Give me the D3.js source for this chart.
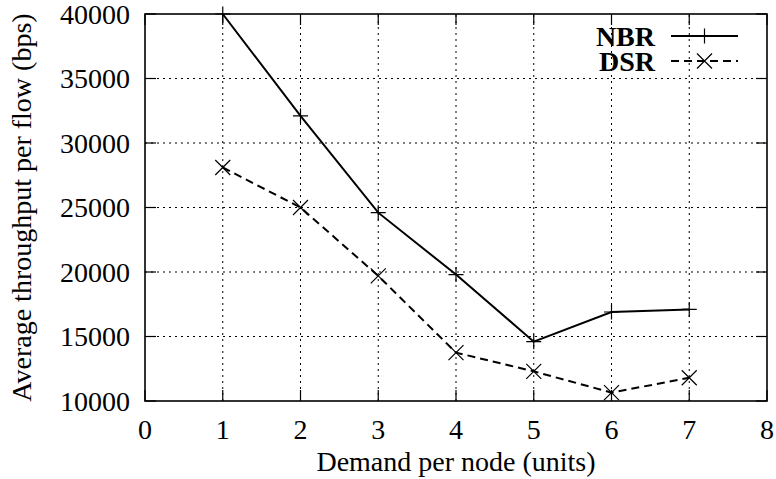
<!DOCTYPE html>
<html>
<head>
<meta charset="utf-8">
<script src="https://cdn.jsdelivr.net/npm/d3@7"></script>
<style>
  body { margin: 0; background: #fff; }
  svg { display: block; }
  svg text { font-family: "Liberation Serif", "Times New Roman", Times, "DejaVu Serif", serif; }
</style>
</head>
<body>
<div id="chart"></div>
<script>
// datos
const demand = [1, 2, 3, 4, 5, 6, 7];
const nbrValues = [40000, 32100, 24600, 19800, 14600, 16900, 17100];
const dsrValues = [28100, 25000, 19700, 13750, 12300, 10650, 11800];
const xTicks = [0, 1, 2, 3, 4, 5, 6, 7, 8];
const yTicks = [10000, 15000, 20000, 25000, 30000, 35000, 40000];
const seriesNames = ["NBR", "DSR"];

const width = 776, height = 479;
const margin = { top: 14, right: 9, bottom: 78, left: 145 };
const fontSize = 28;
const fontFamily = "'Liberation Serif', 'Times New Roman', Times, 'DejaVu Serif', serif";

const svg = d3.select("#chart").append("svg")
    .attr("width", width)
    .attr("height", height);

const x = d3.scaleLinear().domain([0, 8]).range([margin.left, width - margin.right]);
const y = d3.scaleLinear().domain([10000, 40000]).range([height - margin.bottom, margin.top]);

const x0 = x.range()[0], x1 = x.range()[1];
const y0 = y.range()[0], y1 = y.range()[1];

// rejilla punteada
const grid = svg.append("g").attr("stroke", "#000").attr("stroke-width", 1)
    .attr("stroke-dasharray", "2,4");
grid.selectAll(".gx").data(xTicks.slice(1, -1)).enter().append("line")
    .attr("x1", d => x(d)).attr("x2", d => x(d))
    .attr("y1", y0).attr("y2", y1);
grid.selectAll(".gy").data(yTicks.slice(1, -1)).enter().append("line")
    .attr("x1", x0).attr("x2", x1)
    .attr("y1", d => y(d)).attr("y2", d => y(d));

// marcas de los ejes (hacia dentro, con espejo)
const tickLen = 11;
const ticks = svg.append("g").attr("stroke", "#000").attr("stroke-width", 1.2);
xTicks.forEach(t => {
    ticks.append("line").attr("x1", x(t)).attr("x2", x(t)).attr("y1", y0).attr("y2", y0 - tickLen);
    ticks.append("line").attr("x1", x(t)).attr("x2", x(t)).attr("y1", y1).attr("y2", y1 + tickLen);
});
yTicks.forEach(t => {
    ticks.append("line").attr("x1", x0).attr("x2", x0 + tickLen).attr("y1", y(t)).attr("y2", y(t));
    ticks.append("line").attr("x1", x1).attr("x2", x1 - tickLen).attr("y1", y(t)).attr("y2", y(t));
});

// borde
svg.append("rect")
    .attr("x", x0).attr("y", y1)
    .attr("width", x1 - x0).attr("height", y0 - y1)
    .attr("fill", "none").attr("stroke", "#000").attr("stroke-width", 1.6);

// etiquetas de los ejes
svg.append("g").selectAll("text").data(xTicks).enter().append("text")
    .attr("x", d => x(d)).attr("y", y0 + 38)
    .attr("text-anchor", "middle")
    .attr("font-family", fontFamily)
    .style("font-size", fontSize + "px")
    .text(d => d);

svg.append("g").selectAll("text").data(yTicks).enter().append("text")
    .attr("x", x0 - 15).attr("y", d => y(d))
    .attr("dy", "0.35em")
    .attr("text-anchor", "end")
    .attr("font-family", fontFamily)
    .style("font-size", fontSize + "px")
    .text(d => d);

svg.append("text")
    .attr("x", (x0 + x1) / 2).attr("y", 471)
    .attr("text-anchor", "middle")
    .attr("font-family", fontFamily)
    .style("font-size", fontSize + "px")
    .text("Demand per node (units)");

svg.append("text")
    .attr("transform", `translate(31, ${(y0 + y1) / 2}) rotate(-90)`)
    .attr("text-anchor", "middle")
    .attr("font-family", fontFamily)
    .style("font-size", fontSize + "px")
    .text("Average throughput per flow (bps)");

// marcadores
const m = 7.5;
function plusMark(g, cx, cy) {
    g.append("path").attr("d", `M${cx - m},${cy}H${cx + m}M${cx},${cy - m}V${cy + m}`)
        .attr("stroke", "#000").attr("stroke-width", 1.2).attr("fill", "none");
}
function crossMark(g, cx, cy) {
    g.append("path").attr("d", `M${cx - m},${cy - m}L${cx + m},${cy + m}M${cx - m},${cy + m}L${cx + m},${cy - m}`)
        .attr("stroke", "#000").attr("stroke-width", 1.2).attr("fill", "none");
}

const line = d3.line().x(d => x(d[0])).y(d => y(d[1]));
const series = [
    { name: seriesNames[0], values: nbrValues, dash: null, mark: plusMark },
    { name: seriesNames[1], values: dsrValues, dash: "8,5", mark: crossMark }
];

const plot = svg.append("g");
series.forEach(s => {
    const pts = demand.map((d, i) => [d, s.values[i]]);
    plot.append("path")
        .attr("d", line(pts))
        .attr("fill", "none")
        .attr("stroke", "#000")
        .attr("stroke-width", 2)
        .attr("stroke-dasharray", s.dash);
    pts.forEach(p => s.mark(plot, x(p[0]), y(p[1])));
});

// leyenda
const legend = svg.append("g");
series.forEach((s, i) => {
    const ly = 36 + i * 25;
    legend.append("text")
        .attr("x", 655).attr("y", ly)
        .attr("dy", "0.35em")
        .attr("text-anchor", "end")
        .attr("font-family", fontFamily)
        .style("font-size", fontSize + "px")
        .style("font-weight", "bold")
        .text(s.name);
    legend.append("line")
        .attr("x1", 671).attr("x2", 738)
        .attr("y1", ly).attr("y2", ly)
        .attr("stroke", "#000").attr("stroke-width", 2)
        .attr("stroke-dasharray", s.dash);
    s.mark(legend, 704.5, ly);
});
</script>
</body>
</html>
